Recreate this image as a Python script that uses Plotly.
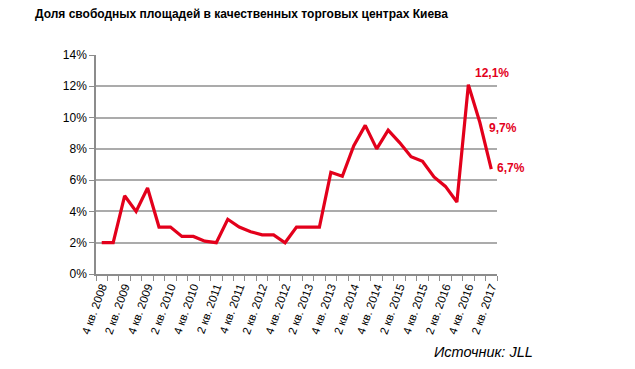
import plotly.graph_objects as go

quarters = [
    "4 кв. 2008",
    "1 кв. 2009", "2 кв. 2009", "3 кв. 2009", "4 кв. 2009",
    "1 кв. 2010", "2 кв. 2010", "3 кв. 2010", "4 кв. 2010",
    "1 кв. 2011", "2 кв. 2011", "3 кв. 2011", "4 кв. 2011",
    "1 кв. 2012", "2 кв. 2012", "3 кв. 2012", "4 кв. 2012",
    "1 кв. 2013", "2 кв. 2013", "3 кв. 2013", "4 кв. 2013",
    "1 кв. 2014", "2 кв. 2014", "3 кв. 2014", "4 кв. 2014",
    "1 кв. 2015", "2 кв. 2015", "3 кв. 2015", "4 кв. 2015",
    "1 кв. 2016", "2 кв. 2016", "3 кв. 2016", "4 кв. 2016",
    "1 кв. 2017", "2 кв. 2017",
]
vacancy = [
    2.0,
    2.0, 5.0, 4.0, 5.5,
    3.0, 3.0, 2.4, 2.4,
    2.1, 2.0, 3.5, 3.0,
    2.7, 2.5, 2.5, 2.0,
    3.0, 3.0, 3.0, 6.5,
    6.25, 8.2, 9.5, 8.0,
    9.2, 8.4, 7.5, 7.2,
    6.2, 5.6, 4.6, 12.1,
    9.7, 6.7,
]
label_idx = [32, 33, 34]
label_text = ["12,1%", "9,7%", "6,7%"]
label_shift = [(5, 12), (7, -6), (4, 1)]
y_ticks = [0, 2, 4, 6, 8, 10, 12, 14]

x = list(range(len(quarters)))
red = "#E3001B"

# page has an 8px body margin; figure coordinates = page coordinates - 8
OFF = 8
W, H = 635 - 2 * OFF, 369 - 2 * OFF
ml = 96 - OFF
mt = 55 - OFF
mr = W - (497 - OFF)
mb = H - (274 - OFF)
pw, ph = W - ml - mr, H - mt - mb

def px_to_paper(px, py):
    return (px - OFF - ml) / pw, (H - (py - OFF) - mb) / ph

fig = go.Figure()
fig.add_trace(go.Scatter(
    x=x, y=vacancy, mode="lines",
    line=dict(color=red, width=3.2),
    hoverinfo="skip", showlegend=False,
))

for i, t, (dx, dy) in zip(label_idx, label_text, label_shift):
    fig.add_annotation(
        x=x[i], y=vacancy[i], xref="x", yref="y", text="<b>" + t + "</b>",
        showarrow=False, xanchor="left", yanchor="middle",
        xshift=dx, yshift=dy,
        font=dict(family="Liberation Sans, Arial", size=12, color=red),
    )

tx, ty = px_to_paper(33, 14)
fig.add_annotation(
    x=tx, y=ty, xref="paper", yref="paper", xanchor="left", yanchor="middle",
    text="<b>Доля свободных площадей в качественных торговых центрах Киева</b>",
    showarrow=False, font=dict(family="Liberation Sans, Arial", size=12, color="#000000"),
)
sx, sy = px_to_paper(432, 352)
fig.add_annotation(
    x=sx, y=sy, xref="paper", yref="paper", xanchor="left", yanchor="middle",
    text="<i>Источник: JLL</i>", showarrow=False,
    font=dict(family="Liberation Sans, Arial", size=14.5, color="#000000"),
)

fig.update_layout(
    width=W, height=H,
    margin=dict(l=ml, r=mr, t=mt, b=mb, autoexpand=False),
    paper_bgcolor="white", plot_bgcolor="white",
    font=dict(family="Liberation Sans, Arial", size=12, color="#000000"),
    xaxis=dict(
        range=[-0.5, len(quarters) - 0.5],
        tickvals=x[::2], ticktext=quarters[::2],
        tickangle=-70, ticks="", ticklen=0,
        tickfont=dict(size=11.5),
        showgrid=False, zeroline=False, automargin=False,
        showline=True, linecolor="#8C8C8C", linewidth=1.5,
        minor=dict(tickvals=[v - 0.5 for v in range(len(quarters) + 1)],
                   ticks="outside", ticklen=5, tickcolor="#8C8C8C", tickwidth=1,
                   showgrid=False),
    ),
    yaxis=dict(
        range=[0, 14], tickvals=y_ticks,
        ticktext=[f"{v}%" for v in y_ticks],
        ticks="outside", ticklen=5, tickcolor="#8C8C8C",
        showgrid=True, gridcolor="#ABABAB", gridwidth=2,
        zeroline=False, showline=True, linecolor="#8C8C8C", linewidth=1.5,
        tickfont=dict(size=12), automargin=False,
    ),
)

fig.write_html("out.html")
